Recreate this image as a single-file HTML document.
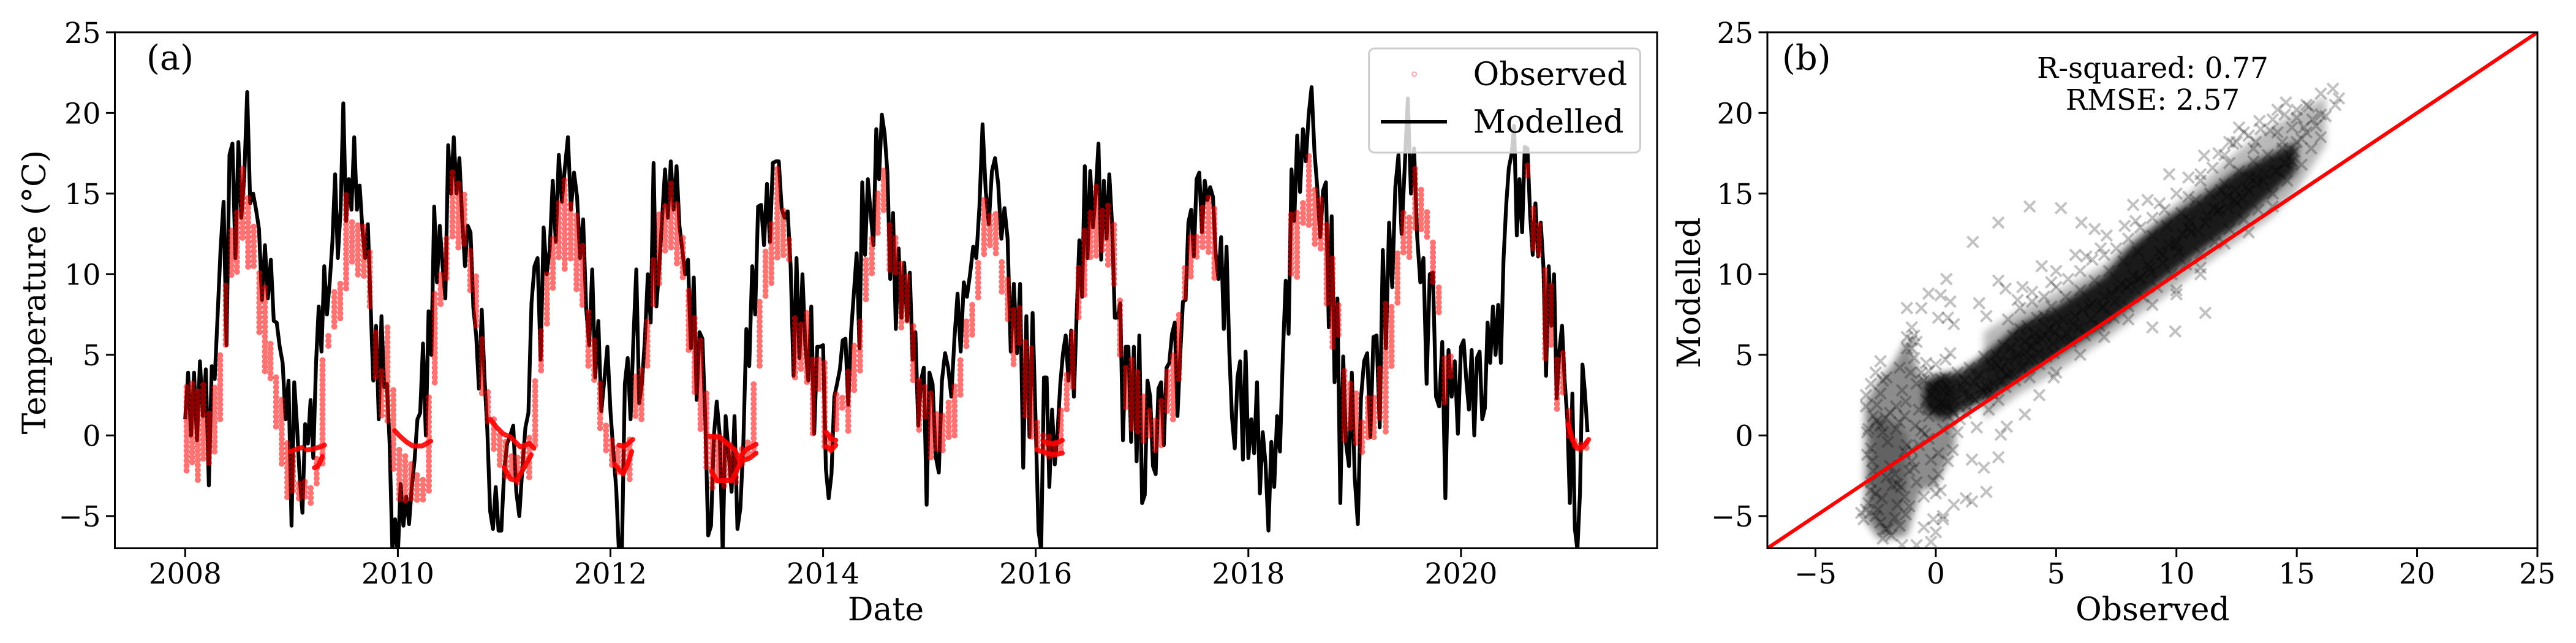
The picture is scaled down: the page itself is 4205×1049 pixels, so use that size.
<!DOCTYPE html>
<html lang="en">
<head>
<meta charset="utf-8">
<title>Observed and modelled temperature</title>
<style>
html,body{margin:0;padding:0;background:#fff;width:4205px;height:1049px;overflow:hidden}
svg{display:block}
text{font-family:"DejaVu Serif","Liberation Serif",serif;fill:#000}
</style>
</head>
<body>
<svg id="chart" xmlns="http://www.w3.org/2000/svg" width="4205" height="1049" viewBox="0 0 4205 1049">
<defs>
<clipPath id="clip-a"><rect x="187.5" y="52.8" width="2517.5" height="841.7"/></clipPath>
<clipPath id="clip-b"><rect x="2885" y="52.8" width="1257" height="841.7"/></clipPath>
<filter id="soft" x="-10%" y="-10%" width="120%" height="120%"><feGaussianBlur stdDeviation="6"/></filter>
</defs>
<g id="panel-a-marks" clip-path="url(#clip-a)"></g>
<g id="panel-b-marks" clip-path="url(#clip-b)"></g>
<g id="axes"></g>
<g>
<rect x="2234.7" y="79" width="442.8" height="170" rx="9" fill="#fff" fill-opacity="0.8" stroke="#ccc" stroke-width="3"/>
<circle cx="2308.7" cy="121" r="3.5" fill="none" stroke="#f00" stroke-opacity="0.35" stroke-width="2"/>
<text x="2404.6" y="139" font-size="52">Observed</text>
<line x1="2254" x2="2362" y1="198.7" y2="198.7" stroke="#000" stroke-width="5.5"/>
<text x="2404.6" y="216.7" font-size="52">Modelled</text>
</g>
<text x="239" y="113.7" font-size="56">(a)</text>
<text x="2909" y="113.7" font-size="56">(b)</text>
<text x="3514" y="127" font-size="46.8" text-anchor="middle">R-squared: 0.77</text>
<text x="3514" y="179" font-size="46.8" text-anchor="middle">RMSE: 2.57</text>
<text x="1446" y="1012" font-size="52" text-anchor="middle">Date</text>
<text transform="translate(74,476.6) rotate(-90)" font-size="52" text-anchor="middle">Temperature (°C)</text>
<text x="3514" y="1012" font-size="52" text-anchor="middle">Observed</text>
<text transform="translate(2775,477.6) rotate(-90)" font-size="52" text-anchor="middle">Modelled</text>
</svg>
<script>
// Axis tick labels
const yearTicks = [2008, 2010, 2012, 2014, 2016, 2018, 2020];
const tempTicks = [-5, 0, 5, 10, 15, 20, 25];
const scatterXTicks = [-5, 0, 5, 10, 15, 20, 25];

// Modelled temperature, evenly spaced within each calendar year
const modelled2008 = [1.0,3.9,0.0,3.9,-0.3,4.6,1.2,4.1,-3.1,4.3,3.5,7.5,11.6,14.5,5.6,17.4,18.1,11,18.2,13.5,16,21.3,14.4,15,14,12.8,8.4,11.8,8.5,10.9,7.1,7,5.5,4.5,1,3.4];
const modelled2009 = [-5.6,3.3,0.7,-2.6,-4.8,0.7,-0.5,2.2,-1.4,4.5,8,5.2,10.5,7.5,9.5,12,16.2,11,14,20.6,13.3,15.9,14,18.5,14,15.5,12.8,11,13.1,8.2,3.4,6.8,1,7.4,3,3.2,-0.5,-7.2,-5.2];
const modelled2010 = [-7.5,-3,-5.6,-3.8,-5.5,-3.2,-1.5,1,1.4,5.7,0,7.7,5,14.2,9.5,13,10.5,8.5,18,15,18.5,15,17.2,13.5,10.5,13,12.6,7.9,6.2,2.9,7.8,3.5,0.3,-4.7,-5.8,-3.2,-5.9,-5.9];
const modelled2011 = [-2.2,-0.5,0,0.6,-3.5,-5,-2,0.5,1.4,8.2,10.5,11,4.7,12.9,10,11.5,15.8,12,17.4,14.5,16.6,18.5,14,16.3,14.8,11,13.4,7.9,5.6,10.3,3.6,7.1,1.5,3.5,5.5];
const modelled2012 = [1.5,-1,-3.3,-7.5,-7,3.2,4.8,1,6,10.3,2,3.3,6,10,7,16.9,8,10.5,13.5,16.5,13.5,17,14,16.7,13,11.5,10,10.9,5.4,9.8,2.2,6.4,6,1,-6.2,-5.6,0];
const modelled2013 = [2.1,0,-7.3,1.2,-1,-3.5,1.2,-5.8,-4.5,-0.5,6.6,4.3,10.5,7.5,14.2,14.3,11.8,15.6,12,16.9,17,17,14,13.5,13.9,10.5,3.7,11,4.8,10,5.5,3.4,8,0.1,5.5,5.5];
const modelled2014 = [5.6,-2.1,-3.9,-2.4,2.4,3.2,4.1,5.9,6,1.9,6.4,8.8,11.3,5.4,15.7,11.2,15.9,13.8,11.8,19,15.9,19.9,18.7,16.3,9.7,13.8,6.6,11.6,7.3,10.7,7.1,10.1,4.7,6.4,0.6,3.4,4.2,-4.3];
const modelled2015 = [3.9,3.2,-1.3,-2.3,3.4,5.1,4.2,2.4,6,8.8,5.2,9.5,8.6,10,11.7,11,14.2,19.3,15.2,13.1,16.4,17.2,15.6,12.2,14.1,12.2,5.2,9.4,5.1,9.4,-2,7.4,-0.1,7.6];
const modelled2016 = [0.6,-5.9,-7.1,3.6,3.6,-3.2,1.6,-1.8,0.2,3.2,5.1,6.2,3.4,6.5,2.4,7.5,12.1,8.6,16.7,11,16.4,12.9,15,18.1,10.9,15.8,12.2,16.2,13.1,7.3,7.3,8.2,-0.3,5.5,5.5,-0.4,5.5,-1.6,6.2];
const modelled2017 = [-4.2,-3.7,3.4,2.4,-1.9,-2.4,2.9,3.3,-0.6,4.2,4.5,6.3,7,1.2,5,8.3,8.4,13.2,14,11.1,15.9,16.3,12.6,15.8,14.6,15.4,14.8,11.3,9.7,12.3,6.6,11.7,5.2,1.1,-0.8,3.6,4.6,-1.5,5.2];
const modelled2018 = [-1.4,1,-1.1,3.3,-3.6,0.2,-1.8,-5.9,-0.4,-3.2,1.2,-1,5,9.6,6.3,16.5,13.3,18.6,15.1,19,17,19.9,21.6,17.6,15.3,12.3,15.2,15.7,6.7,13.6,3.3,8.5,-4.2,4.9,-0.5,-1.9,3.9];
const modelled2019 = [-2.6,-5.5,2.3,4.6,5.1,-0.1,6.1,6.2,0.5,11.5,5.4,13.2,9.2,15.4,17.4,12.5,16.6,20.9,15,17.8,12.3,9.5,11,3.2,10,10.1,2.4,1.8,5.8,-3.9,5.3,2.4,4.6,0.1];
const modelled2020 = [5.5,5.9,3.4,1.6,5.3,0,4.8,5.2,1,1.7,7,4.5,8,5,8.1,4.5,10.9,14.3,16.6,17.4,19.2,12.4,15.9,12.6,17.9,17.8,13.7,11.2,14.4,11.1,13.2,10.5,3.7,10.5,6.8,10,2.3,5.2,6.8,3.4];
const modelled2021 = [1,-4.2,2.6,-5.8,-7.1,-3.6,4.4,2.6,0.2];

// Observed cloud: top and bottom of the spread at evenly spaced dates; null = no observations
const observedHigh2008 = [3,3.4,2.8,3.4,1.5,3,5.2,9.4,12.7,14,16.6,15,13.1,10.1,9.4,5.8,3.6,2.4,-0.4];
const observedLow2008  = [-2.2,-1.8,-3,-1.7,-2,-1.1,1,5.6,9.7,9.9,12,10.3,10.5,6.2,3.9,3.4,0.4,-1.8,-3.9];
const observedHigh2009 = [-1.3,-2.8,-2.8,-3,-1.3,4.7,6.4,9,9.4,15.1,13.3,13.3,13.1,11.4,6.6,4.1,6.7,3];
const observedLow2009  = [-3.7,-4.1,-4,-4.3,-3.2,-1.9,5.3,6.7,7,9,10.5,9.9,9.7,7.9,3.4,1,0.8,-2.2];
const observedHigh2010 = [-0.9,-1.1,-1.7,-2.2,-2.6,2.4,9,10.1,12.2,16.5,15.7,15.2,11.6,9.9,6.2,2.8,1,0.2];
const observedLow2010  = [-4.1,-4.1,-4.1,-4.1,-4.1,-3.7,3,7.9,9.7,12.2,11.4,11.6,8.8,6.7,2.4,0.6,-1.1,-2];
const observedHigh2011 = [-0.4,-1.1,-1.3,-0.5,0,3.4,6.7,10.1,12.2,14.6,15.9,14.6,13.8,11.8,7.9,6,3.2,0.8];
const observedLow2011  = [-2.6,-2.8,-3,-2.2,-2.8,-0.7,3.8,6.7,9,10.9,10.3,10.7,9,7.9,4.3,3.4,0.4,-1.1];
const observedHigh2012 = [-0.3,-0.55,-0.55,0,3.8,4.1,7.3,11,13.7,14.4,15.7,14.6,12.4,9,7.5,6,2.6,0];
const observedLow2012  = [-2,-2.4,-2.4,-3,1,1,4.3,7.9,9.4,11.2,11.4,10.5,9.7,5.3,2.4,0.2,-2.2,-3.3];
const observedHigh2013 = [-0.05,-0.2,-0.5,-1.1,-0.7,-0.4,3.4,8.4,11.4,13.3,16.6,14.2,12.3,7.3,7.1,7.7,4.7,4.9];
const observedLow2013  = [-3,-3.2,-3,-3,-2,-1.5,-1.3,4.1,8.6,9.4,10.9,10.9,10.7,3.6,4.1,3.2,0,2.8];
const observedHigh2014 = [4.5,0.2,2.6,2.6,4.1,5.6,7.3,11,12.2,15.2,16.5,13.3,12.4,10.7,10.1,6.9,3.4,3.2];
const observedLow2014  = [-0.7,-1,0.2,1.7,0.2,2.6,3.9,8.4,9.9,12.4,13.8,10.1,10.1,6.6,7.1,3.4,0.2,1];
const observedHigh2015 = [2.6,1.5,1.3,2.3,3.2,4.7,7.3,8.2,10.7,14.8,13.7,14,10.9,9.7,8,8,5.8,5.6];
const observedLow2015  = [-1.5,-1.1,-1.1,-0.2,-0.2,2.4,5.4,6,8.4,11,11.6,11,8.8,7,4.3,5.6,1,-0.2];
const observedHigh2016 = [0.8,0.2,0,-0.2,1.7,3.8,6.6,10.5,12.7,14,15.5,14.2,14.4,13.1,8.6,4.3,4.7,4.1];
const observedLow2016  = [-0.9,-1.1,-1.3,-1.3,-1.1,1.5,3,7.1,8.6,11,11,11.4,10.5,9.4,4.9,1.5,0.2,0.2];
const observedHigh2017 = [2.4,1.7,1,2.4,4.1,5,7.7,10.5,12.3,12.5,14.2,15,14.2,null,null,null,null,null];
const observedLow2017  = [-0.5,-0.2,-1.1,-0.7,1.5,0.8,3.4,8.4,9.7,11,11.6,11.2,9.7,null,null,null,null,null];
const observedHigh2018 = [null,null,null,null,null,null,null,13.8,13.8,14.6,17.4,15.5,14.8,13.1,11.2,8.2,4,3.4];
const observedLow2018  = [null,null,null,null,null,null,null,9.9,9.7,12.9,12.9,11.6,11.4,7.9,5.4,6,-0.3,0.2];
const observedHigh2019 = [2.6,1,2.4,2.6,4.3,8.2,8.2,11.4,13.8,13.7,16.6,15.5,14,12,9.4,4.9,4.9,null];
const observedLow2019  = [-0.5,-1.1,-0.3,-0.3,0.8,0,4.1,8,11.2,11,12.7,12.7,12.2,9.5,7.5,1.8,3.6,null];
const observedHigh2020 = [null,null,null,null,null,null,null,null,null,null,null,17,14.2,13.1,10.5,9.4,4.7,5.3];
const observedLow2020  = [null,null,null,null,null,null,null,null,null,null,null,16.1,11.4,11.2,4.5,5.6,1.5,2.6];
const observedHigh2021 = [1.5,-0.15,-0.5,-0.2];
const observedLow2021  = [-0.15,-0.9,-1,-0.9];

// Near-constant winter runs of observations: dates (decimal years) and temperatures
const streakDates = [
  [2008.99,2009.05,2009.10],[2009.14,2009.20,2009.25,2009.31],[2009.215,2009.25,2009.29],
  [2009.97,2010.02,2010.08,2010.14,2010.23,2010.31],
  [2010.87,2010.93,2010.99,2011.06,2011.15,2011.24,2011.28],[2011.0,2011.06,2011.12,2011.17,2011.23,2011.255],
  [2012.08,2012.13,2012.21],[2012.04,2012.12,2012.16,2012.2],
  [2012.93,2013.03,2013.08,2013.17,2013.21,2013.27,2013.37],[2012.95,2013.0,2013.14,2013.23,2013.31,2013.37],
  [2014.03,2014.07,2014.12],[2014.03,2014.08,2014.12],
  [2016.01,2016.1,2016.17,2016.25],[2016.08,2016.17,2016.25],
  [2021.01,2021.05,2021.09,2021.15,2021.2]
];
const streakTemps = [
  [-1,-0.85,-0.75],[-0.9,-0.85,-0.75,-0.6],[-2,-1.9,-1.3],
  [0.3,-0.05,-0.4,-0.65,-0.65,-0.35],
  [1,0.5,0.1,-0.1,-0.7,-0.5,-0.8],[-2,-2.7,-2.8,-2.2,-1.5,-1.2],
  [-0.6,-0.7,-0.25],[-1.8,-2.4,-1.8,-1],
  [-0.05,-0.1,-0.4,-0.9,-1.5,-0.9,-0.55],[-2.2,-2.8,-2.8,-1.6,-1.4,-1.1],
  [0.2,-0.2,-0.3],[-0.7,-0.9,-0.6],
  [-0.9,-1.1,-1.2,-1.1],[-0.4,-0.55,-0.3],
  [0.7,-0.3,-0.8,-0.7,-0.25]
];

// Overplotted dense regions of the scatter: observed value with lower/upper modelled edge
const coreObserved = [-0.5,0.2,1,2,3.5,5,7,8,9.5,11,12.5,14,15];
const coreLow = [1.6,1.0,1.4,2.1,3.5,4.9,6.7,7.9,9.7,11.4,13,15,16.4];
const coreHigh = [3.2,3.8,4,5,6.9,8,9.9,11.6,13.4,14.8,16.4,17.5,18.2];
const haloObserved = [2,3.5,5,7,8,9.5,11,12.5,14,15,16.2];
const haloLow = [1,2.6,3.9,5.9,7,8.6,10.4,12,13.6,15.2,18];
const haloHigh = [6.4,7.8,8.9,10.6,12,13.8,15.6,17.6,19.2,20,21];
const wingObserved = [-2.95,-2.4,-1.8,-1.2,-0.6,0,0.8];
const wingLow = [-5.2,-6.4,-6.4,-6.2,-3.4,-3.2,-0.6];
const wingHigh = [2,3.4,4.4,6,3.6,3.8,3.2];
const legObserved = [-2.7,-2.2,-1.6,-1.2];
const legLow = [-4.8,-6,-5.6,-3];
const legHigh = [1,1.2,0.6,0];

// Individual scatter samples: observed (x) and modelled (y), row for row
const scatterObserved = [
1.54,2.6,3.9,5.2,6.05,6.6,4.4,2.6,2.9,3.6,
3.4,4,1.8,2.1,0.44,-0.3,0.2,0.6,-1.2,-0.6,
-1,0.1,0.5,0.75,-2.3,-2.5,-2.9,-2.7,9,9.95,
11.2,10,11,9.7,10.5,11,8.2,8.8,9.3,7.85,
8.3,7.1,5.8,6.25,6.85,5,4.8,2.95,2.7,2.6,
2,1.5,2.1,1.5,1.25,0.75,0.3,0,-0.2,-0.8,
-1.4,-2.2,-3,-3.1,3.7,4.3,4.9,16.5,16,16.75,
16.6,15.4,14.55,15.65,16,15.3,13.45,12.6,14.2,11.15,
11.75,12.35,-2.9,-2.8,-2.7,-2.6,-2.5,-2.4,-2.8,-2.6,
-2.3,-2.7,-2.2,-2.1,-2,-1.9,-1.8,-2.3,-2,-1.7,
-1.6,-2.2,-1.5,-1.4,-1.3,-1.2,-1.1,-1.6,-1.3,-1,
-1.5,-1.2,-1,-0.9,-0.8,-0.7,-0.6,-1,-0.8,-0.5,
-0.4,-0.9,-0.3,-0.2,-0.1,0,0.1,-0.3,-0.1,0.2,
0.3,-0.5,0.2,0.4,0.5,0.6,0.8,0.9,1,1.1,
1.2,1.3,1.4,1.5,1.6,1.7,1.8,1.9,2,2.1,
2.2,2.3,2.4,2.5,2.6,2.7,2.8,2.9,3,3.1,
3.2,3.3,3.4,3.5,3.6,3.7,3.8,3.9,4,4.1,
4.2,4.3,4.4,4.5,4.6,4.7,4.8,4.9,5,5.2,
5.4,5.6,5.8,6,6.2,6.4,6.6,6.8,7,7.2,
7.4,7.6,7.8,8,8.2,8.4,8.6,8.8,9,9.2,
9.4,9.6,9.8,10,10.2,10.4,10.6,10.8,11,11.2,
11.4,11.6,11.8,12,12.2,12.4,12.6,12.8,13,13.2,
13.4,13.6,13.8,14,14.2,14.4,14.6,14.8,15,15.2,
15.4,15.6,0.3,0.7,1.05,1.35,1.75,2.15,2.55,2.95,
3.35,3.75,4.15,4.55,4.95,5.3,5.7,6.1,6.5,6.9,
7.3,7.7,8.1,8.5,8.9,9.3,9.7,10.1,10.5,10.9,
11.3,11.7,12.1,12.5,12.9,13.3,13.7,14.1,14.5,14.9,
-2.85,-2.45,-2.05,-1.65,-1.25,-0.85,-0.45,-0.05,0.35,0.75,
1.15,1.55,1.95,12.15,12.45,12.75,13.05,13.35,11.55,11.85,
10.55,10.25,9.95,9.45,8.95,8.45,7.95,7.45,6.95,6.45,
5.95,5.45,4.85,4.25,3.85,3.15,2.75,2.35,1.65,1.25,
-2.9,-2.7,-2.5,-2.3,-2.1,-1.9,-1.7,-1.5,-1.3,-1.1,
-2.85,-2.65,-2.45,-2.25,-2.05,-1.85,-1.65,-1.45,-1.25,-1.05,
-0.9,-0.7,-0.5,-0.3,-0.1,0.1,0.3,0.5,0.7,0.9,
-1.2,-1,-0.8,-0.6,-0.4,-0.2,0,0.2,0.4,0.6,
3,3.5,4,4.5,5,5.5,6,6.5,7,7.5,
8,8.5,9,9.5,10,10.5,11,11.5,12,12.5,
13,13.5,14,14.5,15,15.5,16,12.2,13.2,14.2,
5,6,7,8,9,10,11,12,13,14,
15.2,15.8,16.2,15,14.8,14.4,13.9,13.3,12.8,12.2
];
const scatterModelled = [
12,13.2,14.2,14.1,13.2,12.8,10.5,9.6,9.1,9.2,
8.4,8.9,8.2,7.4,9.7,8.8,8.7,8.3,7.9,7.9,
6.7,7.3,7.3,6.9,4.6,3.9,2.5,3.2,6.7,6.45,
7.6,8.75,10,16.2,16,16.2,14.3,14.6,14.4,13,
13.3,12.4,11.2,11.1,11.6,10.2,9.5,0.55,0.05,-1.35,
-2,-1.5,-3.5,-4.1,-3.9,-4.3,-5,-6,-6.6,-6.8,
-6.8,-6.4,-5.2,-4.8,1.3,2.5,3.6,21.5,21.2,20.9,
20.5,20.5,20.65,19.6,18.5,19.1,19.5,19.1,20.2,17.35,
17.5,18.1,1.8,0.4,-0.8,-2.2,-3.6,-4.6,-4.2,1.2,
2.6,-2.9,3.4,1.1,-0.4,-1.9,-3.1,-5.4,-5.8,-5.1,
-4.3,0.2,4.2,2.8,1.2,-0.6,-2.2,-3,-3.8,-0.9,
0.8,5.4,5.9,4.8,3.2,1.6,0.3,-1.6,-2.9,3.4,
2.2,6.2,1.2,-1.5,-2.8,-3.6,-1.1,4,3,-3.4,
-5.2,-5.7,2,3.6,1.2,2.8,2.2,3.9,1,2.9,
3.4,1.8,4.2,2.4,3.3,0.5,3.8,2.9,4.9,3,
1.6,4.3,3.2,5,2.2,4.1,5.6,3,4.6,5.4,
6.2,3.4,5,6.6,4.2,5.8,6.8,3.6,5.5,6.3,
7.3,4.4,6,7.4,4.9,6.6,8,5.1,7,6,
8.6,5.8,7.4,9,6.2,8,9.6,6.8,8.6,10.2,
7.3,9.1,10.8,8,9.9,11.4,8.6,10.6,12.4,9.2,
11.2,13,10,12,13.8,10.6,12.6,14.6,11.3,13.2,
15,12,14,15.6,12.8,14.6,16.4,13.4,15.2,17,
14,15.8,17.4,15,16.4,17.8,15.8,17,18.2,16.8,
18.8,17.8,2.8,1.6,3.1,2.4,3.6,2.6,4.4,3.8,
4.8,5.2,5.9,6.2,6.4,7.2,6.9,7.8,8.2,7.9,
8.8,9.4,9.4,9.8,10.4,11.4,11.8,11.4,12.9,12.7,
13.6,13.9,14.8,14.4,15.4,16,16.2,16.4,16.9,17.6,
-1.2,0.9,-2.6,1.8,-4.9,0.6,0.1,1.6,1.9,1.4,
2.6,3,2.7,14.1,15.2,14.7,16,15.6,14.1,15.2,
13.3,12.5,11.8,10.7,10.1,9.7,9.2,8.3,8,7.2,
6.7,6.3,5.7,5.1,4.7,3.9,3.4,2.6,2.2,1.4,
-4.6,-3.4,-5,0.6,-5.8,1.4,-2.4,-5.6,-1,-4.4,
0.2,-1.6,1.9,-3.9,3.6,-6.2,0.4,-3.2,2.1,3.9,
-2,-0.6,-3.8,-0.2,-5.2,-2.4,0.4,-1.6,-0.9,0.2,
6.1,5.4,5.8,3.9,4.5,2.6,4.4,3.5,4.7,5.1,
7.2,7.9,8.3,8.6,9.2,9.7,10.2,10.9,11.2,11.6,
12.2,12.9,13.5,14,15,14.8,15.8,16.6,17.4,18.2,
18.6,19,19.6,19.9,20.2,20.4,19.9,16.9,17.8,18.8,
3.9,5,6.1,7.2,8.1,9,10.4,11.9,12.6,14.2,
18.4,19.2,19.8,19.7,19.1,18.2,18.9,18.2,18.8,18.2
];

const NS = 'http://www.w3.org/2000/svg';
const panelA = document.getElementById('panel-a-marks');
const panelB = document.getElementById('panel-b-marks');
const axesLayer = document.getElementById('axes');

// Axis functions
const xDate = yr => 302.3 + (yr - 2008) * 173.55;
const yTemp = v => 52.8 + (25 - v) * 26.303;
const xObs = v => 2885 + (v + 7) * 39.28;

function make(tag, parent, attrs) {
  const el = document.createElementNS(NS, tag);
  for (const k in attrs) el.setAttribute(k, attrs[k]);
  parent.appendChild(el);
  return el;
}

// Modelled line
const modelledYears = [
  [2008, modelled2008], [2009, modelled2009], [2010, modelled2010], [2011, modelled2011],
  [2012, modelled2012], [2013, modelled2013], [2014, modelled2014], [2015, modelled2015],
  [2016, modelled2016], [2017, modelled2017], [2018, modelled2018], [2019, modelled2019],
  [2020, modelled2020]
];
const linePts = [];
modelledYears.forEach(([yr, vals]) => {
  vals.forEach((v, j) => linePts.push(xDate(yr + j / vals.length).toFixed(1) + ',' + yTemp(v).toFixed(1)));
});
modelled2021.forEach((v, j) => linePts.push(xDate(2021 + j * 0.19 / (modelled2021.length - 1)).toFixed(1) + ',' + yTemp(v).toFixed(1)));
const modelledLine = make('polyline', panelA, {points: linePts.join(' '), fill: 'none', stroke: '#000', 'stroke-width': 6.2, 'stroke-linejoin': 'round'});



// Observed cloud
const observedYears = [
  [2008, observedHigh2008, observedLow2008], [2009, observedHigh2009, observedLow2009],
  [2010, observedHigh2010, observedLow2010], [2011, observedHigh2011, observedLow2011],
  [2012, observedHigh2012, observedLow2012], [2013, observedHigh2013, observedLow2013],
  [2014, observedHigh2014, observedLow2014], [2015, observedHigh2015, observedLow2015],
  [2016, observedHigh2016, observedLow2016], [2017, observedHigh2017, observedLow2017],
  [2018, observedHigh2018, observedLow2018], [2019, observedHigh2019, observedLow2019],
  [2020, observedHigh2020, observedLow2020], [2021, observedHigh2021, observedLow2021]
];
observedYears.forEach(([yr, hi, lo]) => {
  const n = yr === 2021 ? 18 : hi.length;
  hi.forEach((h, j) => {
    if (h === null) return;
    const x = xDate(yr + (j + 0.25) / n);
    const col = make('line', panelA, {x1: x, x2: x, y1: yTemp(h), y2: yTemp(lo[j]), stroke: '#f00', 'stroke-opacity': 0.55, 'stroke-width': 10, 'stroke-linecap': 'round', 'stroke-dasharray': '0.01 8', 'stroke-dashoffset': j * 3});
    
    
  });
});

// Winter streaks of observations
streakDates.forEach((dates, i) => {
  const pts = dates.map((d, j) => xDate(d).toFixed(1) + ',' + yTemp(streakTemps[i][j]).toFixed(1)).join(' ');
  const s = make('polyline', panelA, {points: pts, fill: 'none', stroke: '#f00', 'stroke-opacity': 0.9, 'stroke-width': 8, 'stroke-linecap': 'round', 'stroke-linejoin': 'round'});
  
  
});

// Scatter dense regions
function band(obs, low, high, opacity, name) {
  const up = obs.map((o, i) => xObs(o).toFixed(1) + ',' + yTemp(high[i]).toFixed(1));
  const dn = obs.map((o, i) => xObs(o).toFixed(1) + ',' + yTemp(low[i]).toFixed(1)).reverse();
  const p = make('polygon', panelB, {points: up.concat(dn).join(' '), fill: '#000', 'fill-opacity': opacity, filter: 'url(#soft)'});
  
  
}
band(haloObserved, haloLow, haloHigh, 0.28, 'scatter-upper-spread');
band(wingObserved, wingLow, wingHigh, 0.45, 'scatter-cold-density');
band(legObserved, legLow, legHigh, 0.3, 'scatter-cold-leg-density');
band(coreObserved, coreLow, coreHigh, 0.86, 'scatter-core-density');

// Scatter crosses
const nPairs = Math.min(scatterObserved.length, scatterModelled.length);
for (let i = 0; i < nPairs; i++) {
  const cx = xObs(scatterObserved[i]);
  const cy = yTemp(scatterModelled[i]);
  const m = make('path', panelB, {d: 'M' + (cx - 9) + ' ' + (cy - 9) + 'L' + (cx + 9) + ' ' + (cy + 9) + 'M' + (cx - 9) + ' ' + (cy + 9) + 'L' + (cx + 9) + ' ' + (cy - 9), stroke: '#000', 'stroke-opacity': 0.24, 'stroke-width': 4, fill: 'none'});
  
  
}

// 1:1 line
const oneToOne = make('line', panelB, {x1: xObs(-7), y1: yTemp(-7), x2: xObs(25), y2: yTemp(25), stroke: '#f00', 'stroke-width': 6});



// Frames and ticks
function frame(x0, x1, name) {
  const r = make('rect', axesLayer, {x: x0, y: 52.8, width: x1 - x0, height: 841.7, fill: 'none', stroke: '#000', 'stroke-width': 3});
  
  
}
frame(187.5, 2705, 'panel-a-frame');
frame(2885, 4142, 'panel-b-frame');

function xTick(x, label, name) {
  const t = make('line', axesLayer, {x1: x, x2: x, y1: 894.5, y2: 909, stroke: '#000', 'stroke-width': 3});
  
  
  const tx = make('text', axesLayer, {x: x, y: 952, 'font-size': 46.8, 'text-anchor': 'middle'});
  tx.textContent = label;
  
  
}
function yTick(xAxis, v, name) {
  const y = yTemp(v);
  const t = make('line', axesLayer, {x1: xAxis - 14.5, x2: xAxis, y1: y, y2: y, stroke: '#000', 'stroke-width': 3});
  
  
  const tx = make('text', axesLayer, {x: xAxis - 23, y: y + 17, 'font-size': 46.8, 'text-anchor': 'end'});
  tx.textContent = String(v).replace('-', '\u2212');
  
  
}
yearTicks.forEach(yr => xTick(xDate(yr), String(yr), 'panel-a-x-tick'));
tempTicks.forEach(v => yTick(187.5, v, 'panel-a-y-tick'));
scatterXTicks.forEach(v => xTick(xObs(v), String(v).replace('-', '\u2212'), 'panel-b-x-tick'));
tempTicks.forEach(v => yTick(2885, v, 'panel-b-y-tick'));
</script>
</body>
</html>
